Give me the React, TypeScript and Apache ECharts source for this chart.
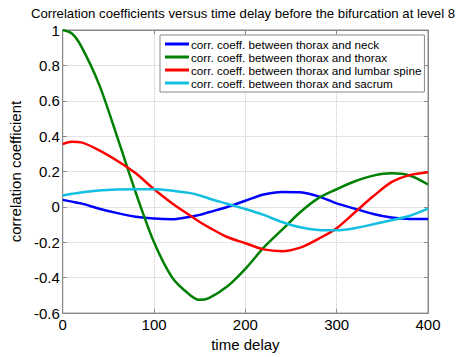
import React, { useEffect, useRef } from "react";
import * as echarts from "echarts";

const timeDelay = [0, 10, 20, 40, 60, 80, 100, 120, 140, 150, 160, 180, 200, 220, 240, 260, 280, 300, 320, 340, 360, 380, 400];

const neck = [0.04, 0.03, 0.02, -0.01, -0.035, -0.055, -0.066, -0.07, -0.055, -0.045, -0.03, 0.0, 0.035, 0.07, 0.085, 0.083, 0.06, 0.02, -0.01, -0.04, -0.06, -0.068, -0.068];
const thorax = [1.0, 0.98, 0.91, 0.69, 0.39, 0.08, -0.2, -0.4, -0.5, -0.525, -0.515, -0.45, -0.35, -0.23, -0.13, -0.03, 0.05, 0.1, 0.145, 0.177, 0.19, 0.178, 0.127];
const lumbar = [0.355, 0.368, 0.365, 0.32, 0.26, 0.19, 0.1, 0.02, -0.05, -0.085, -0.115, -0.17, -0.205, -0.24, -0.25, -0.23, -0.18, -0.12, -0.03, 0.06, 0.14, 0.18, 0.196];
const sacrum = [0.065, 0.074, 0.082, 0.093, 0.098, 0.1, 0.1, 0.092, 0.078, 0.065, 0.048, 0.018, -0.012, -0.045, -0.085, -0.115, -0.13, -0.132, -0.12, -0.098, -0.075, -0.05, -0.01];

const seriesNames = [
  "corr. coeff. between thorax and neck",
  "corr. coeff. between thorax and thorax",
  "corr. coeff. between thorax and lumbar spine",
  "corr. coeff. between thorax and sacrum",
];
const seriesColors = ["#0000ff", "#008000", "#ff0000", "#12bfe0"];
const seriesValues = [neck, thorax, lumbar, sacrum];

const FONT = "Liberation Sans, Arial, sans-serif";

export default function App() {
  const ref = useRef<HTMLDivElement>(null);
  useEffect(() => {
    if (!ref.current) return;
    const chart = echarts.init(ref.current, null, { renderer: "svg" });
    const axisCommon = {
      type: "value" as const,
      axisLine: { show: true, onZero: false, lineStyle: { color: "#888", width: 1 } },
      axisTick: { show: true, inside: true, length: 4, lineStyle: { color: "#888" } },
    };
    chart.setOption({
      animation: false,
      backgroundColor: "#ffffff",
      textStyle: { fontFamily: FONT },
      title: {
        text: "Correlation coefficients versus time delay before the bifurcation at level 8",
        left: 243,
        textAlign: "center",
        top: 7,
        padding: 0,
        textStyle: { fontFamily: FONT, fontSize: 13.2, lineHeight: 13, fontWeight: "normal", color: "#000" },
      },
      grid: { left: 60, right: 31, top: 30, bottom: 35, show: true, borderColor: "#888", borderWidth: 1 },
      legend: {
        left: 160,
        top: 35,
        orient: "vertical",
        backgroundColor: "#fff",
        borderColor: "#888",
        borderWidth: 1,
        borderRadius: 0,
        padding: [3, 3, 3, 5],
        itemGap: 1,
        itemWidth: 24,
        itemHeight: 3,
        icon: "rect",
        textStyle: { fontFamily: FONT, fontSize: 11.7, color: "#000", padding: [0, 0, 0, -3] },
        data: seriesNames,
      },
      xAxis: [
        {
          ...axisCommon,
          min: 0,
          max: 400,
          interval: 100,
          name: "time delay",
          nameLocation: "middle",
          nameGap: 18,
          nameTextStyle: { fontFamily: FONT, fontSize: 15, color: "#000" },
          axisLabel: { fontFamily: FONT, fontSize: 15, color: "#000", margin: 4 },
          splitLine: { show: true, lineStyle: { type: "dotted", color: "#c8c8c8" } },
        },
        {
          ...axisCommon,
          position: "top",
          min: 0,
          max: 400,
          interval: 100,
          axisLabel: { show: false },
          splitLine: { show: false },
        },
      ],
      yAxis: [
        {
          ...axisCommon,
          min: -0.6,
          max: 1,
          interval: 0.2,
          name: "correlation coefficient",
          nameLocation: "middle",
          nameGap: 34,
          nameTextStyle: { fontFamily: FONT, fontSize: 15, color: "#000" },
          axisLabel: {
            fontFamily: FONT,
            fontSize: 15,
            lineHeight: 15,
            color: "#000",
            margin: 3,
            formatter: (v: number) => String(Math.round(v * 10) / 10),
          },
          splitLine: { show: true, lineStyle: { type: "dotted", color: "#c8c8c8" } },
        },
        {
          ...axisCommon,
          position: "right",
          min: -0.6,
          max: 1,
          interval: 0.2,
          axisLabel: { show: false },
          splitLine: { show: false },
        },
      ],
      series: seriesNames.map((name, i) => ({
        name,
        type: "line",
        smooth: 0.3,
        symbol: "none",
        color: seriesColors[i],
        lineStyle: { width: 2.5, color: seriesColors[i] },
        data: timeDelay.map((t, j) => [t, seriesValues[i][j]]),
      })),
    });
    return () => chart.dispose();
  }, []);
  return <div ref={ref} style={{ position: "fixed", left: 0, top: 0, width: 459, height: 357 }} />;
}
